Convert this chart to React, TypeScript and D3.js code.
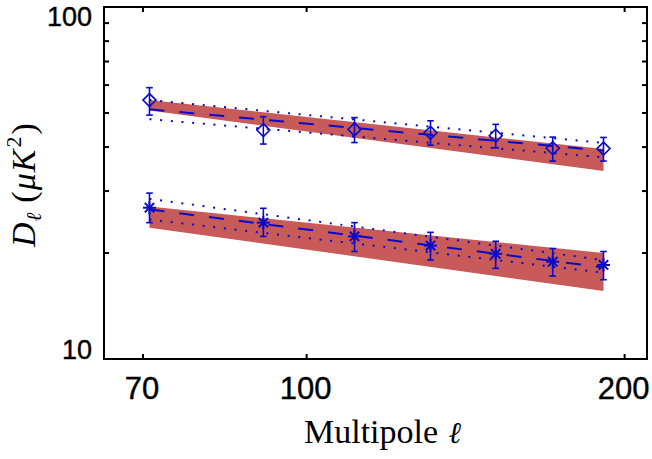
import React from "react";
import * as d3 from "d3";

// Multipole bin centres
const ell = [71, 91, 111, 131, 151, 171, 191];

// Diamond series (upper)
const dDiamond = [54.4, 44.7, 44.9, 43.9, 43.1, 39.7, 39.6];
const dDiamondLo = [49.3, 40.8, 41.2, 40.5, 39.8, 36.5, 36.5];
const dDiamondHi = [59.0, 48.8, 48.5, 47.5, 46.4, 42.7, 42.6];

// Asterisk series (lower)
const dStar = [26.9, 24.4, 22.3, 21.0, 19.9, 18.9, 18.5];
const dStarLo = [24.4, 22.3, 20.2, 19.1, 18.1, 17.2, 16.8];
const dStarHi = [29.6, 26.8, 24.4, 22.9, 21.6, 20.6, 20.2];

// Power-law fits (end points, straight in log-log)
const fitEll = [71, 191];
const fitDiamond = [51.2, 39.1];
const fitDiamondUp = [54.4, 41.1];
const fitDiamondDn = [48.0, 37.4];
const fitStar = [26.6, 18.2];
const fitStarUp = [28.5, 19.1];
const fitStarDn = [24.9, 17.6];

// Model bands
const bandDiamondHi = [54.4, 39.5];
const bandDiamondLo = [50.8, 34.2];
const bandStarHi = [27.1, 20.0];
const bandStarLo = [23.6, 15.6];

// Axes
const xDomain = [64.3, 210];
const yDomain = [10, 100];
const xTicks = [70, 100, 200];
const yMajorTicks = [10, 100];
const yMinorTicks = [20, 30, 40, 50, 60, 70, 80, 90];

const W = 652;
const H = 459;
const M = { left: 104, right: 647, top: 7, bottom: 359 };

const BLUE = "#0a0ac8";
const RED = "#c85a5a";
const SANS = "'Liberation Sans', Arial, Helvetica, sans-serif";
const SERIF = "'Liberation Serif', 'Times New Roman', serif";

export default function App() {
  const x = d3.scaleLog().domain(xDomain).range([M.left, M.right]);
  const y = d3.scaleLog().domain(yDomain).range([M.bottom, M.top]);

  const line = d3
    .line<[number, number]>()
    .x((d) => x(d[0]))
    .y((d) => y(d[1]));
  const area = d3
    .area<[number, number, number]>()
    .x((d) => x(d[0]))
    .y0((d) => y(d[1]))
    .y1((d) => y(d[2]));

  const pts = (vals: number[]) => fitEll.map((l, i) => [l, vals[i]] as [number, number]);
  const band = (lo: number[], hi: number[]) =>
    fitEll.map((l, i) => [l, lo[i], hi[i]] as [number, number, number]);

  const tickLen = 5;
  const cap = 3.3;
  const r = 6.5;
  const rd = r * 0.72;

  const errorBars = (lo: number[], hi: number[], key: string) =>
    ell.map((l, i) => {
      const cx = x(l);
      return (
        <g key={key + i} stroke={BLUE} strokeWidth={1.6} fill="none">
          <line x1={cx} x2={cx} y1={y(lo[i])} y2={y(hi[i])} />
          <line x1={cx - cap} x2={cx + cap} y1={y(lo[i])} y2={y(lo[i])} />
          <line x1={cx - cap} x2={cx + cap} y1={y(hi[i])} y2={y(hi[i])} />
        </g>
      );
    });

  return (
    <svg
      width={W}
      height={H}
      style={{ position: "absolute", left: 0, top: 0, background: "#fff" }}
    >
      <rect x={0} y={0} width={W} height={H} fill="#fff" />
      {/* bands */}
      <path d={area(band(bandDiamondLo, bandDiamondHi)) || ""} fill={RED} />
      <path d={area(band(bandStarLo, bandStarHi)) || ""} fill={RED} />

      {/* fits */}
      {[fitDiamond, fitStar].map((f, i) => (
        <path
          key={"fd" + i}
          d={line(pts(f)) || ""}
          fill="none"
          stroke={BLUE}
          strokeWidth={2}
          strokeDasharray="15,15"
        />
      ))}
      {[fitDiamondUp, fitDiamondDn, fitStarUp, fitStarDn].map((f, i) => (
        <path
          key={"fp" + i}
          d={line(pts(f)) || ""}
          fill="none"
          stroke={BLUE}
          strokeWidth={2}
          strokeDasharray="2,8.7"
        />
      ))}

      {/* error bars */}
      {errorBars(dDiamondLo, dDiamondHi, "ed")}
      {errorBars(dStarLo, dStarHi, "es")}

      {/* diamond markers */}
      {ell.map((l, i) => {
        const cx = x(l);
        const cy = y(dDiamond[i]);
        return (
          <path
            key={"dm" + i}
            d={`M${cx},${cy - r}L${cx + r},${cy}L${cx},${cy + r}L${cx - r},${cy}Z`}
            fill="none"
            stroke={BLUE}
            strokeWidth={1.6}
          />
        );
      })}
      {/* asterisk markers */}
      {ell.map((l, i) => {
        const cx = x(l);
        const cy = y(dStar[i]);
        return (
          <g key={"sm" + i} stroke={BLUE} strokeWidth={2}>
            <line x1={cx - r} x2={cx + r} y1={cy} y2={cy} />
            <line x1={cx} x2={cx} y1={cy - r} y2={cy + r} />
            <line x1={cx - rd} x2={cx + rd} y1={cy - rd} y2={cy + rd} />
            <line x1={cx - rd} x2={cx + rd} y1={cy + rd} y2={cy - rd} />
          </g>
        );
      })}

      {/* axes box */}
      <rect
        x={M.left}
        y={M.top}
        width={M.right - M.left}
        height={M.bottom - M.top}
        fill="none"
        stroke="#000"
        strokeWidth={2}
      />
      {xTicks.map((t) => (
        <g key={"xt" + t} stroke="#000" strokeWidth={2}>
          <line x1={x(t)} x2={x(t)} y1={M.bottom} y2={M.bottom - tickLen} />
          <line x1={x(t)} x2={x(t)} y1={M.top} y2={M.top + tickLen} />
        </g>
      ))}
      {[...yMinorTicks, ...yMajorTicks].map((t) => (
        <g key={"yt" + t} stroke="#000" strokeWidth={2}>
          <line x1={M.left} x2={M.left + tickLen} y1={y(t)} y2={y(t)} />
          <line x1={M.right} x2={M.right - tickLen} y1={y(t)} y2={y(t)} />
        </g>
      ))}

      {/* tick labels */}
      {xTicks.map((t) => (
        <text
          key={"xl" + t}
          x={x(t) - 1}
          y={398.5}
          textAnchor="middle"
          fontFamily={SANS}
          fontSize={31}
          fill="#000"
          stroke="#000"
          strokeWidth={0.4}
        >
          {t}
        </text>
      ))}
      <text
        x={92}
        y={25.5}
        textAnchor="end"
        fontFamily={SANS}
        fontSize={27}
        fill="#000"
        stroke="#000"
        strokeWidth={0.4}
      >
        {yMajorTicks[1]}
      </text>
      <text
        x={92}
        y={358.5}
        textAnchor="end"
        fontFamily={SANS}
        fontSize={27}
        fill="#000"
        stroke="#000"
        strokeWidth={0.4}
      >
        {yMajorTicks[0]}
      </text>

      {/* axis titles */}
      <text
        x={304}
        y={443}
        textAnchor="start"
        fontFamily={SERIF}
        fontSize={34}
        fill="#000"
      >
        Multipole{" "}
        <tspan fontStyle="italic" fontFamily="'DejaVu Serif', serif" fontSize={30} dx={2}>
          ℓ
        </tspan>
      </text>
      <text
        transform="translate(35,247) rotate(-90)"
        textAnchor="start"
        fontFamily={SERIF}
        fontSize={34}
        fill="#000"
      >
        <tspan fontStyle="italic">D</tspan>
        <tspan fontSize={21} dy={6} dx={1} fontStyle="italic" fontFamily="'DejaVu Serif', serif">
          ℓ
        </tspan>
        <tspan dy={-6} dx={10}>(</tspan>
        <tspan fontStyle="italic" dx={1}>μ</tspan>
        <tspan fontStyle="italic" dx={1}>K</tspan>
        <tspan fontSize={22} dy={-14} dx={2}>2</tspan>
        <tspan dy={14} dx={2}>)</tspan>
      </text>
    </svg>
  );
}
